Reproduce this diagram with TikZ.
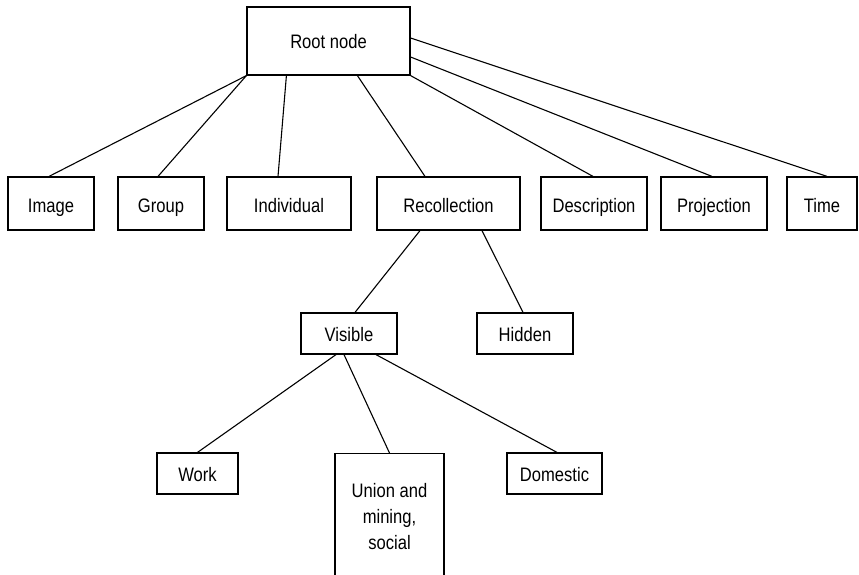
\documentclass[tikz,border=0pt]{standalone}
\usepackage{fontspec}
\setmainfont{Liberation Sans}[FakeStretch=0.85]
\begin{document}
\begin{tikzpicture}[x=1pt,y=-1pt,
  every node/.style={font=\fontsize{19.5}{26}\selectfont},
  box/.style={draw, line width=1.2pt, inner sep=0pt, align=center,
              text height=15pt, text depth=0pt},
  rowbox/.style={box, minimum height=53pt, text height=17pt},
  link/.style={line width=1.1pt}]
\useasboundingbox (0,0) rectangle (859,574);
\clip (0,0) rectangle (859,574);

% top level
\node[box, minimum width=163pt, minimum height=68pt] (root) at (328.5,41) {Root node};

% second level
\node[rowbox, minimum width=86pt]  (image)  at (51,203.5)    {Image};
\node[rowbox, minimum width=86pt]  (group)  at (161,203.5)   {Group};
\node[rowbox, minimum width=124pt] (indiv)  at (289,203.5)   {Individual};
\node[rowbox, minimum width=143pt] (recoll) at (448.5,203.5) {Recollection};
\node[rowbox, minimum width=106pt] (descr)  at (594,203.5)   {Description};
\node[rowbox, minimum width=106pt] (proj)   at (714,203.5)   {Projection};
\node[rowbox, minimum width=70pt]  (time)   at (822,203.5)   {Time};

% third level
\node[box, minimum width=96pt, minimum height=41pt] (visible) at (349,333.5) {Visible};
\node[box, minimum width=96pt, minimum height=41pt] (hidden)  at (525,333.5) {Hidden};

% fourth level; the tall box runs on below the lower edge
\node[box, minimum width=81pt, minimum height=41pt] (work)     at (197.5,473.5) {Work};
\node[box, minimum width=95pt, minimum height=41pt] (domestic) at (554.5,473.5) {Domestic};
\node[box, anchor=north, minimum width=109pt, inner ysep=29pt,
      text height=67pt, text depth=110pt]
  (union) at (389.5,453) {Union and\\mining,\\social};

% connectors from the root
\draw[link] (root.south west) -- ([xshift=-2pt]image.north);
\draw[link] (root.south west) -- ([xshift=-3pt]group.north);
\draw[link] ([xshift=40pt]root.south west) -- ([xshift=-11pt]indiv.north);
\draw[link] ([xshift=111pt]root.south west) -- ([xshift=-23.5pt]recoll.north);
\draw[link] (root.south east) -- ([xshift=-1pt]descr.north);
\draw[link] ([yshift=-16pt]root.east) -- ([xshift=-2pt]proj.north);
\draw[link] ([yshift=3pt]root.east) -- ([xshift=5pt]time.north);

% connectors under Recollection
\draw[link] ([xshift=-28.5pt]recoll.south) -- ([xshift=6pt]visible.north);
\draw[link] ([xshift=33.5pt]recoll.south) -- ([xshift=-2pt]hidden.north);

% connectors under Visible
\draw[link] ([xshift=-13pt]visible.south) -- (work.north);
\draw[link] ([xshift=-5pt]visible.south) -- (union.north);
\draw[link] ([xshift=27pt]visible.south) -- ([xshift=2.5pt]domestic.north);
\end{tikzpicture}
\end{document}
